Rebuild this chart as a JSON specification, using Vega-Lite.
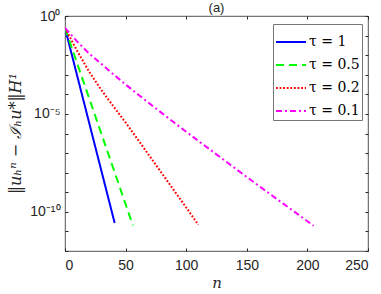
{
  "$schema": "https://vega.github.io/schema/vega-lite/v6.json",
  "width": 303,
  "height": 235,
  "autosize": {"type": "none"},
  "padding": {"left": 65, "top": 16, "right": 13, "bottom": 43},
  "background": "white",
  "title": {"text": "(a)", "anchor": "middle", "baseline": "alphabetic", "offset": 0, "dy": 16, "fontSize": 13, "font": "Liberation Sans", "fontWeight": "normal", "color": "#262626"},
  "config": {
    "title": {"fontSize": 13, "font": "Liberation Sans", "fontWeight": "normal", "color": "#262626"},
    "view": {"stroke": "#262626", "strokeWidth": 0.8},
    "axis": {"grid": false, "domain": false, "tickColor": "#262626", "labelColor": "#262626", "labelFont": "Liberation Sans", "labelFontSize": 14, "titleColor": "#262626"}
  },
  "data": {
    "values": [
      {"tau": "τ = 1", "n": 0, "err": 0.2455},
      {"tau": "τ = 1", "n": 10, "err": 9.12e-4},
      {"tau": "τ = 1", "n": 20, "err": 3.39e-6},
      {"tau": "τ = 1", "n": 30, "err": 1.26e-8},
      {"tau": "τ = 1", "n": 41, "err": 2.67e-11},
      {"tau": "τ = 0.5", "n": 0, "err": 0.2455},
      {"tau": "τ = 0.5", "n": 10, "err": 3.89e-3},
      {"tau": "τ = 0.5", "n": 20, "err": 6.17e-5},
      {"tau": "τ = 0.5", "n": 30, "err": 9.77e-7},
      {"tau": "τ = 0.5", "n": 40, "err": 1.55e-8},
      {"tau": "τ = 0.5", "n": 50, "err": 2.45e-10},
      {"tau": "τ = 0.5", "n": 56, "err": 2.04e-11},
      {"tau": "τ = 0.2", "n": 0, "err": 0.2455},
      {"tau": "τ = 0.2", "n": 10, "err": 1.66e-2},
      {"tau": "τ = 0.2", "n": 20, "err": 1.41e-3},
      {"tau": "τ = 0.2", "n": 30, "err": 1.66e-4},
      {"tau": "τ = 0.2", "n": 40, "err": 2.40e-5},
      {"tau": "τ = 0.2", "n": 50, "err": 3.63e-6},
      {"tau": "τ = 0.2", "n": 60, "err": 5.01e-7},
      {"tau": "τ = 0.2", "n": 70, "err": 6.76e-8},
      {"tau": "τ = 0.2", "n": 80, "err": 9.12e-9},
      {"tau": "τ = 0.2", "n": 90, "err": 1.23e-9},
      {"tau": "τ = 0.2", "n": 100, "err": 1.66e-10},
      {"tau": "τ = 0.2", "n": 110, "err": 2.19e-11},
      {"tau": "τ = 0.1", "n": 0, "err": 0.2455},
      {"tau": "τ = 0.1", "n": 10, "err": 5.01e-2},
      {"tau": "τ = 0.1", "n": 20, "err": 1.20e-2},
      {"tau": "τ = 0.1", "n": 30, "err": 3.55e-3},
      {"tau": "τ = 0.1", "n": 40, "err": 1.05e-3},
      {"tau": "τ = 0.1", "n": 50, "err": 3.16e-4},
      {"tau": "τ = 0.1", "n": 60, "err": 1.02e-4},
      {"tau": "τ = 0.1", "n": 70, "err": 3.31e-5},
      {"tau": "τ = 0.1", "n": 80, "err": 1.10e-5},
      {"tau": "τ = 0.1", "n": 90, "err": 3.63e-6},
      {"tau": "τ = 0.1", "n": 100, "err": 1.23e-6},
      {"tau": "τ = 0.1", "n": 110, "err": 4.17e-7},
      {"tau": "τ = 0.1", "n": 120, "err": 1.45e-7},
      {"tau": "τ = 0.1", "n": 130, "err": 5.01e-8},
      {"tau": "τ = 0.1", "n": 140, "err": 1.74e-8},
      {"tau": "τ = 0.1", "n": 150, "err": 6.03e-9},
      {"tau": "τ = 0.1", "n": 160, "err": 2.09e-9},
      {"tau": "τ = 0.1", "n": 170, "err": 7.41e-10},
      {"tau": "τ = 0.1", "n": 180, "err": 2.63e-10},
      {"tau": "τ = 0.1", "n": 190, "err": 9.33e-11},
      {"tau": "τ = 0.1", "n": 200, "err": 3.31e-11},
      {"tau": "τ = 0.1", "n": 205, "err": 1.95e-11}
    ]
  },
  "layer": [
    {
      "mark": {"type": "line", "strokeWidth": 2, "clip": true},
      "encoding": {
        "x": {"field": "n", "type": "quantitative",
          "scale": {"domain": [0, 250], "nice": false, "zero": false},
          "axis": {"orient": "bottom", "values": [0, 50, 100, 150, 200, 250], "tickSize": -3, "labelPadding": 10, "labelBaseline": "top",
            "title": "n", "titleFont": "DejaVu Serif", "titleFontStyle": "italic", "titleFontWeight": "normal", "titleFontSize": 15, "titlePadding": 3}},
        "y": {"field": "err", "type": "quantitative",
          "scale": {"type": "log", "domain": [1e-12, 1], "nice": false},
          "axis": {"orient": "left", "values": [1, 1e-1, 1e-2, 1e-3, 1e-4, 1e-5, 1e-6, 1e-7, 1e-8, 1e-9, 1e-10, 1e-11, 1e-12],
            "tickSize": -3, "labelPadding": 8,
            "labelExpr": "round(log(datum.value)/LN10) == 0 ? '10⁰' : round(log(datum.value)/LN10) == -5 ? '10⁻⁵' : round(log(datum.value)/LN10) == -10 ? '10⁻¹⁰' : ''",
            "title": "‖uₕⁿ − ℐₕu*‖H¹", "titleFont": "DejaVu Serif", "titleFontStyle": "italic", "titleFontWeight": "normal", "titleFontSize": 16,
            "titleX": -50, "titleY": 117, "titleBaseline": "middle", "titleAlign": "center", "titleAngle": -90}},
        "color": {"field": "tau", "type": "nominal",
          "scale": {"domain": ["τ = 1", "τ = 0.5", "τ = 0.2", "τ = 0.1"], "range": ["#0000ff", "#00ff00", "#ff0000", "#ff00ff"]},
          "legend": {"title": null, "orient": "none", "legendX": 208, "legendY": 8,
            "symbolType": "stroke", "symbolSize": 900, "symbolStrokeWidth": 2,
            "labelFont": "DejaVu Serif", "labelFontSize": 14, "labelColor": "#000000", "labelOffset": 2,
            "strokeColor": "#777777", "fillColor": "white", "padding": 2, "rowPadding": -4}},
        "strokeDash": {"field": "tau", "type": "nominal",
          "scale": {"domain": ["τ = 1", "τ = 0.5", "τ = 0.2", "τ = 0.1"], "range": [[1, 0], [8, 5], [1.8, 1.8], [6, 3, 2, 3]]},
          "legend": {"title": null, "orient": "none", "legendX": 208, "legendY": 8,
            "symbolType": "stroke", "symbolSize": 900, "symbolStrokeWidth": 2,
            "labelFont": "DejaVu Serif", "labelFontSize": 14, "labelColor": "#000000", "labelOffset": 2,
            "strokeColor": "#777777", "fillColor": "white", "padding": 2, "rowPadding": -4}}
      }
    },
    {
      "mark": {"type": "line", "opacity": 0},
      "encoding": {
        "x": {"field": "n", "type": "quantitative",
          "axis": {"orient": "top", "values": [0, 50, 100, 150, 200, 250], "tickSize": -3, "labels": false, "title": null}},
        "y": {"field": "err", "type": "quantitative",
          "axis": {"orient": "right", "values": [1, 1e-1, 1e-2, 1e-3, 1e-4, 1e-5, 1e-6, 1e-7, 1e-8, 1e-9, 1e-10, 1e-11, 1e-12], "tickSize": -3, "labels": false, "title": null}},
        "detail": {"field": "tau", "type": "nominal"}
      }
    }
  ],
  "resolve": {"axis": {"x": "independent", "y": "independent"}}
}
